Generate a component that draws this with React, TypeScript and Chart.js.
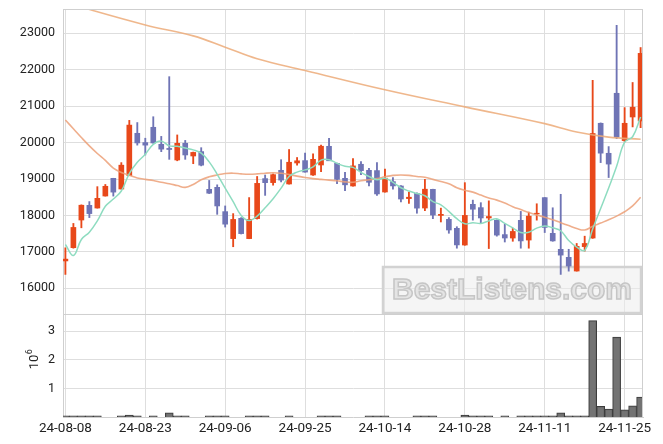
import React, { useEffect, useRef } from 'react';
import { Chart, registerables } from 'chart.js';
Chart.register(...registerables);

const dates = [
  '24-08-08','24-08-09','24-08-12','24-08-13','24-08-14','24-08-16','24-08-19','24-08-20','24-08-21','24-08-22',
  '24-08-23','24-08-26','24-08-27','24-08-28','24-08-29','24-08-30','24-09-02','24-09-03','24-09-04','24-09-05',
  '24-09-06','24-09-09','24-09-10','24-09-11','24-09-12','24-09-13','24-09-19','24-09-20','24-09-23','24-09-24',
  '24-09-25','24-09-26','24-09-27','24-09-30','24-10-02','24-10-04','24-10-07','24-10-08','24-10-10','24-10-11',
  '24-10-14','24-10-15','24-10-16','24-10-17','24-10-18','24-10-21','24-10-22','24-10-23','24-10-24','24-10-25',
  '24-10-28','24-10-29','24-10-30','24-10-31','24-11-01','24-11-04','24-11-05','24-11-06','24-11-07','24-11-08',
  '24-11-11','24-11-12','24-11-13','24-11-14','24-11-15','24-11-18','24-11-19','24-11-20','24-11-21','24-11-22',
  '24-11-25','24-11-26','24-11-27',
];
const tickIndices = [0, 10, 20, 30, 40, 50, 60, 70];
const priceTicks = [16000, 17000, 18000, 19000, 20000, 21000, 22000, 23000];
const volumeTicks = [1000000, 2000000, 3000000];

const opens = [
  16750,17115,17874,18277,18203,18533,19019,18725,19093,20255,
  20000,20420,19953,19840,19522,19981,19632,19753,18717,18772,
  18104,17363,17920,17363,17912,19011,18901,19239,18863,19440,
  19505,19110,19385,19898,19431,19019,18808,19404,19239,19231,
  18643,18929,18808,18462,18607,18203,18717,18000,17893,17646,
  17187,18305,18214,17930,17865,17473,17379,17865,17324,18040,
  18489,17508,17069,16849,16473,17143,17379,20530,19706,21354,
  20055,20703,20593,
];
const highs = [
  17110,17780,18290,18380,18790,18850,19020,19450,20610,20550,
  20120,20710,20170,21810,20210,20060,19740,19860,18960,18840,
  18260,18050,17940,18490,19070,19110,19140,19530,19810,19590,
  19710,19690,19930,20120,19440,19180,19560,19480,19290,19450,
  19270,19040,18820,18640,18620,18990,18720,18200,17940,17690,
  18900,18420,18350,18400,17880,17760,17650,18110,18090,18320,
  18490,18210,18580,17070,17230,17430,21710,20540,19890,23220,
  20960,21650,22610,
];
const lows = [
  16380,17100,17660,17940,18200,18530,18530,18720,19090,19930,
  19660,19980,19750,19540,19500,19540,19420,19360,18600,18030,
  17680,17140,17490,17360,17900,18550,18830,18920,18860,19380,
  19190,19100,19200,19500,18870,18680,18800,19120,18810,18550,
  18640,18720,18370,18330,18060,18130,17910,17820,17510,17100,
  17180,17870,17800,17090,17430,17270,17290,17100,17100,17870,
  17530,17290,16380,16470,16470,17020,17370,19450,19040,20110,
  20020,20430,20410,
];
const closes = [
  16800,17670,18280,18050,18470,18800,18640,19380,20480,19990,
  19930,19990,19820,19810,19980,19660,19730,19380,18610,18260,
  17760,17890,17500,17890,18880,18900,19120,18970,19460,19500,
  19190,19540,19900,19500,18990,18840,19360,19230,18910,18590,
  19020,18810,18450,18500,18200,18720,18010,18030,17600,17190,
  18000,18170,17930,17970,17460,17380,17560,17300,17980,18060,
  17670,17300,16910,16610,17150,17230,20250,19710,19410,20150,
  20530,20970,22450,
];
const volumes = [
  40000,40000,40000,40000,40000,0,0,40000,70000,40000,
  0,40000,0,150000,40000,40000,0,0,40000,40000,
  40000,0,0,40000,40000,40000,0,0,40000,0,
  0,0,40000,40000,40000,0,0,0,40000,40000,
  40000,0,0,0,40000,40000,40000,0,0,0,
  70000,40000,40000,40000,0,40000,0,40000,40000,40000,
  40000,40000,150000,40000,40000,40000,3370000,370000,280000,2790000,
  250000,390000,700000,
];
const ma5 = [
  17200,16900,17340,17540,17850,18250,18450,18670,19150,19460,
  19680,19950,20040,19910,19900,19850,19800,19710,19470,19130,
  18750,18380,18000,17860,17980,18210,18460,18750,19070,19190,
  19250,19330,19520,19530,19430,19350,19320,19180,19070,18980,
  19020,18910,18760,18670,18600,18540,18380,18290,18110,17910,
  17770,17800,17780,17850,17910,17780,17660,17530,17540,17650,
  17710,17660,17580,17310,17130,17040,17630,18190,18750,19350,
  20010,20160,20700,
];
const ma20 = [
  20620,20380,20140,19910,19700,19510,19300,19180,19100,19030,
  18990,18960,18910,18870,18820,18770,18850,18980,19060,19110,
  19150,19160,19140,19130,19140,19160,19170,19160,19120,19080,
  19040,19010,18990,18970,18950,18920,18910,18950,18980,19010,
  19060,19100,19110,19100,19070,19050,18990,18930,18870,18760,
  18690,18640,18560,18480,18420,18340,18240,18160,18080,18010,
  17950,17880,17800,17720,17640,17600,17700,17790,17880,17980,
  18100,18260,18500,
];
const maLongIdx = [0, 10, 16, 20, 24, 30, 40, 50, 60, 64, 68, 72];
const maLongVals = [23840, 23230, 22930, 22620, 22300, 21980, 21450, 20980, 20520, 20290, 20150, 20090];

const UP = '#e8481a';
const DOWN = '#6f74b5';
const GRID = '#dedede';
const FONT = 'Roboto';

const noPad = (s: any) => {
  s.paddingTop = 0;
  s.paddingBottom = 0;
  s.paddingLeft = 0;
  s.paddingRight = 0;
};

export default function App() {
  const ref = useRef<HTMLCanvasElement>(null);
  useEffect(() => {
    document.body.style.margin = '0';
    const idx = dates.map((_, i) => i);
    const colors = idx.map((i) => (closes[i] >= opens[i] ? UP : DOWN));

    const deco = {
      id: 'deco',
      beforeDatasetsDraw(chart: any) {
        const ctx = chart.ctx;
        ctx.save();
        const bx = 383, by = 267, bw = 258, bh = 46;
        ctx.fillStyle = 'rgba(236,236,236,0.55)';
        ctx.fillRect(bx, by, bw, bh);
        ctx.strokeStyle = '#d2d2d2';
        ctx.lineWidth = 2.5;
        ctx.strokeRect(bx, by, bw, bh);
        ctx.font = `bold 30px "Liberation Sans"`;
        ctx.textAlign = 'center';
        ctx.textBaseline = 'middle';
        ctx.fillStyle = '#e4e4e4';
        ctx.fillText('BestListens.com', bx + bw / 2, by + bh / 2 + 1);
        ctx.strokeStyle = '#c6c6c6';
        ctx.lineWidth = 1.5;
        ctx.strokeText('BestListens.com', bx + bw / 2, by + bh / 2 + 1);
        ctx.restore();
      },
      afterDraw(chart: any) {
        const ctx = chart.ctx;
        const a = chart.chartArea;
        const ys = chart.scales.y;
        const yv = chart.scales.yv;
        ctx.save();
        ctx.strokeStyle = '#cfcfcf';
        ctx.lineWidth = 1;
        ctx.beginPath();
        ctx.moveTo(a.left, a.top + 0.5);
        ctx.lineTo(a.right, a.top + 0.5);
        ctx.moveTo(a.right - 0.5, a.top);
        ctx.lineTo(a.right - 0.5, a.bottom);
        ctx.moveTo(a.left, ys.bottom + 0.5);
        ctx.lineTo(a.right, ys.bottom + 0.5);
        ctx.stroke();
        const cy = (yv.top + yv.bottom) / 2 - 6;
        ctx.translate(35, cy);
        ctx.rotate(-Math.PI / 2);
        ctx.fillStyle = '#222';
        ctx.textBaseline = 'middle';
        ctx.textAlign = 'left';
        ctx.font = `13px ${FONT}`;
        const w10 = ctx.measureText('10').width;
        ctx.font = `9px ${FONT}`;
        const w6 = ctx.measureText('6').width;
        const start = -(w10 + w6) / 2;
        ctx.font = `13px ${FONT}`;
        ctx.fillText('10', start, 0);
        ctx.font = `9px ${FONT}`;
        ctx.fillText('6', start + w10 + 0.5, -5);
        ctx.restore();
      },
    };

    const chart = new Chart(ref.current as HTMLCanvasElement, {
      type: 'bar',
      data: {
        datasets: [
          {
            type: 'line', label: 'MA5',
            data: idx.map((i) => ({ x: i, y: ma5[i] })),
            borderColor: '#8edcc0', borderWidth: 1.5, pointRadius: 0, tension: 0.4,
            yAxisID: 'y', order: 0,
          } as any,
          {
            type: 'line', label: 'MA20',
            data: idx.map((i) => ({ x: i, y: ma20[i] })),
            borderColor: 'rgba(236,160,120,0.85)', borderWidth: 1.6, pointRadius: 0, tension: 0.4,
            yAxisID: 'y', order: 0,
          },
          {
            type: 'line', label: 'MA long',
            data: maLongIdx.map((x, k) => ({ x, y: maLongVals[k] })),
            borderColor: 'rgba(236,170,120,0.85)', borderWidth: 1.6, pointRadius: 0, tension: 0.4,
            yAxisID: 'y', order: 0,
          },
          {
            type: 'bar', label: 'body',
            data: idx.map((i) => ({ x: i, y: [opens[i], closes[i]] })),
            backgroundColor: colors, borderWidth: 0, barThickness: 5, grouped: false,
            yAxisID: 'y', order: 1,
          },
          {
            type: 'bar', label: 'wick',
            data: idx.map((i) => ({ x: i, y: [lows[i], highs[i]] })),
            backgroundColor: colors, borderWidth: 0, barThickness: 1.2, grouped: false,
            yAxisID: 'y', order: 2,
          },
          {
            type: 'bar', label: 'volume',
            data: idx.map((i) => ({ x: i, y: volumes[i] })),
            backgroundColor: 'rgba(108,108,108,0.95)', borderColor: '#3c3c3c', borderWidth: 1,
            barThickness: 8, grouped: false, yAxisID: 'yv', order: 3,
          },
        ] as any,
      },
      options: {
        responsive: false,
        animation: false,
        devicePixelRatio: 1,
        layout: { padding: { top: 9, right: 20, left: 0, bottom: 0 } },
        plugins: { legend: { display: false }, tooltip: { enabled: false } },
        scales: {
          x: {
            type: 'linear', min: -0.3, max: 72.3, offset: false,
            grid: { color: GRID, drawTicks: false, offset: false },
            border: { color: '#cfcfcf' },
            ticks: {
              autoSkip: false, maxRotation: 0, padding: 4, color: '#222',
              font: { family: FONT, size: 13.5 },
              callback: (v: any) => dates[v as number] ?? '',
            },
            afterBuildTicks: (s: any) => { s.ticks = tickIndices.map((v) => ({ value: v })); },
            afterFit: (s: any) => { s.height = 27; noPad(s); },
          },
          y: {
            type: 'linear', position: 'left', stack: 'p', stackWeight: 2.96, weight: 1,
            min: 15294, max: 23668,
            grid: { color: GRID, drawTicks: false },
            border: { color: '#cfcfcf' },
            ticks: {
              padding: 8, color: '#222',
              font: { family: FONT, size: 12.5 },
              callback: (v: any) => String(v),
            },
            afterBuildTicks: (s: any) => { s.ticks = priceTicks.map((v) => ({ value: v })); },
            afterFit: (s: any) => { s.width = 63; noPad(s); },
          },
          yv: {
            type: 'linear', position: 'left', stack: 'p', stackWeight: 1, weight: 0,
            min: 0, max: 3600000,
            grid: { color: GRID, drawTicks: false },
            border: { color: '#cfcfcf' },
            ticks: {
              padding: 8, color: '#222',
              font: { family: FONT, size: 12.5 },
              callback: (v: any) => String(Math.round((v as number) / 1e6)),
            },
            afterBuildTicks: (s: any) => { s.ticks = volumeTicks.map((v) => ({ value: v })); },
            afterFit: (s: any) => { s.width = 63; noPad(s); },
          },
        } as any,
      },
      plugins: [deco],
    });
    return () => chart.destroy();
  }, []);
  return (
    <div style={{ position: 'fixed', left: 0, top: 0, width: 663, height: 444, background: '#fff' }}>
      <canvas ref={ref} width={663} height={444} style={{ display: 'block', width: 663, height: 444 }} />
    </div>
  );
}
